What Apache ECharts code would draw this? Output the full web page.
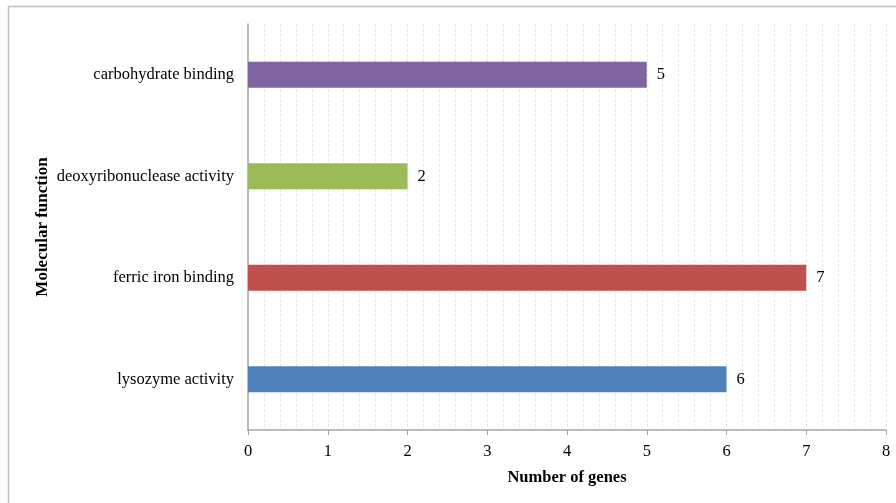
<!DOCTYPE html>
<html>
<head>
<meta charset="utf-8">
<script src="https://cdn.jsdelivr.net/npm/echarts@6/dist/echarts.min.js"></script>
<style>
  html, body { margin: 0; padding: 0; background: #fff; }
  #chart { width: 896px; height: 503px; }
</style>
</head>
<body>
<div id="chart"></div>
<script>
// Molecular function categories (bottom to top on the category axis)
const categories = ['lysozyme activity', 'ferric iron binding', 'deoxyribonuclease activity', 'carbohydrate binding'];
const geneCounts = [6, 7, 2, 5];
const barColors = ['#4F81BD', '#C0504D', '#9BBB59', '#8064A2'];
const xTicks = [0, 1, 2, 3, 4, 5, 6, 7, 8];

const serif = '"Liberation Serif", "DejaVu Serif", serif';
const gridStyle = { color: '#e8e8e8', type: [3, 2], width: 1 };

const chart = echarts.init(document.getElementById('chart'), null, { renderer: 'canvas' });

chart.setOption({
  backgroundColor: '#fff',
  animation: false,
  grid: { left: 248, right: 10, top: 24, bottom: 73, containLabel: false },
  xAxis: {
    type: 'value',
    min: xTicks[0],
    max: xTicks[xTicks.length - 1],
    interval: 1,
    name: 'Number of genes',
    nameLocation: 'middle',
    nameGap: 39,
    nameTextStyle: { fontFamily: serif, fontWeight: 'bold', fontSize: 16.5, color: '#000' },
    axisLine: { show: true, lineStyle: { color: '#a6a6a6', width: 1.5 } },
    axisTick: { show: true, inside: false, length: 5, lineStyle: { color: '#a6a6a6' } },
    axisLabel: { fontFamily: serif, fontSize: 16.5, color: '#000', margin: 13 },
    splitLine: { show: true, lineStyle: gridStyle },
    minorTick: { show: false, splitNumber: 5 },
    minorSplitLine: { show: true, lineStyle: gridStyle }
  },
  yAxis: {
    type: 'category',
    data: categories,
    name: 'Molecular function',
    nameLocation: 'middle',
    nameGap: 197,
    nameMoveOverlap: false,
    nameRotate: 90,
    nameTextStyle: { fontFamily: serif, fontWeight: 'bold', fontSize: 17, color: '#000' },
    axisLine: { show: true, lineStyle: { color: '#a6a6a6', width: 1.5 } },
    axisTick: { show: false },
    axisLabel: { fontFamily: serif, fontSize: 16.5, color: '#000', margin: 14 },
    splitLine: { show: false }
  },
  series: [{
    type: 'bar',
    barWidth: 26,
    data: geneCounts.map((v, i) => ({ value: v, itemStyle: { color: barColors[i] } })),
    label: {
      show: true,
      position: 'right',
      distance: 10,
      fontFamily: serif,
      fontSize: 16.5,
      color: '#000'
    }
  }],
  graphic: [
    { type: 'line', shape: { x1: 8, y1: 6.5, x2: 896, y2: 6.5 }, style: { stroke: '#bdbdbd', lineWidth: 1.5 } },
    { type: 'line', shape: { x1: 8.5, y1: 6, x2: 8.5, y2: 503 }, style: { stroke: '#bdbdbd', lineWidth: 1.5 } }
  ]
});
</script>
</body>
</html>
